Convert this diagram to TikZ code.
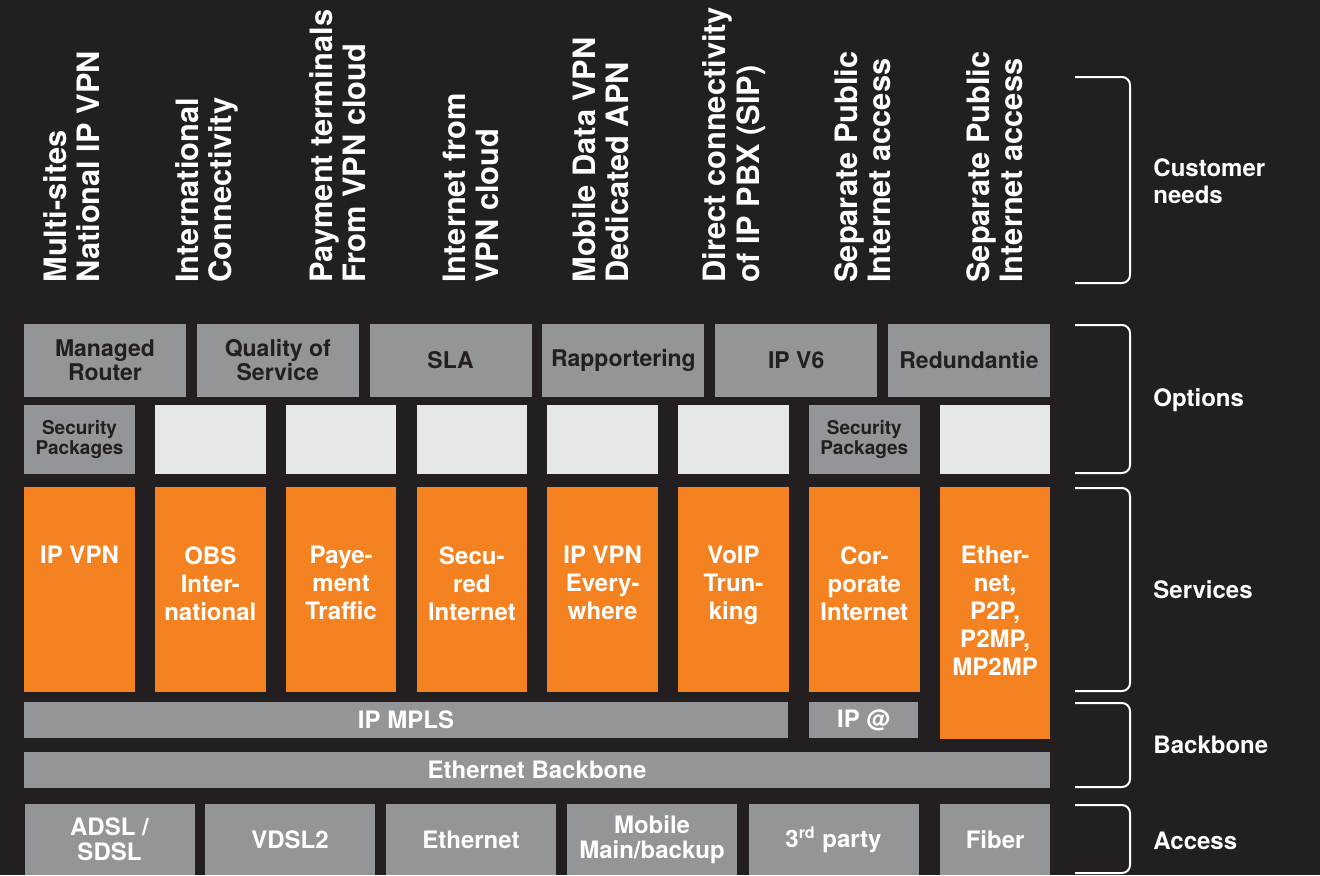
\documentclass[tikz,border=0pt]{standalone}
\usepackage{fontspec}
\setmainfont{TeX Gyre Heros}
\usepackage{tikz}
\definecolor{bgdark}{HTML}{231F20}
\definecolor{boxgray}{HTML}{939598}
\definecolor{boxlight}{HTML}{E6E7E8}
\definecolor{svcorange}{HTML}{F58220}
\newcommand{\px}{0.5pt}
\newcommand{\colw}{110.5*\px}
\tikzstyle{needtext}=[rotate=90, anchor=west, align=left, inner sep=0, text=white, font=\bfseries\fontsize{15.4}{16.6}\selectfont]
\tikzstyle{optbox}=[rectangle, fill=boxgray, text=bgdark, inner sep=0, align=center, minimum width=162*\px, minimum height=73*\px, font=\bfseries\fontsize{11.5}{12}\selectfont]
\tikzstyle{secbox}=[rectangle, fill=boxgray, text=bgdark, inner sep=0, align=center, minimum width=\colw, minimum height=69*\px, font=\bfseries\fontsize{9.5}{10}\selectfont]
\tikzstyle{emptybox}=[rectangle, fill=boxlight, inner sep=0, minimum width=\colw, minimum height=69*\px]
\tikzstyle{svcbox}=[rectangle, fill=svcorange, inner sep=0, minimum width=\colw, minimum height=205*\px]
\tikzstyle{svctext}=[anchor=north, align=center, inner sep=0, text=white, font=\bfseries\fontsize{12}{14}\selectfont]
\tikzstyle{barbox}=[rectangle, fill=boxgray, text=white, inner sep=0, align=center, minimum height=36*\px, font=\bfseries\fontsize{12}{12.5}\selectfont]
\tikzstyle{accbox}=[rectangle, fill=boxgray, text=white, inner sep=0, align=center, minimum width=170*\px, minimum height=71*\px, font=\bfseries\fontsize{12}{12.5}\selectfont]
\tikzstyle{layertext}=[anchor=west, align=left, inner sep=0, text=white, font=\bfseries\fontsize{12}{13.5}\selectfont]
\tikzstyle{bracket}=[draw=white, line width=1pt, rounded corners=4pt]

\begin{document}
\begin{tikzpicture}[x=\px, y=-\px]
  \fill[bgdark] (0,0) rectangle (1320,875);

  % customer needs
  \node[needtext] (need1) at (72,283) {Multi-sites\\National IP VPN};
  \node[needtext] (need2) at (207,283) {International\\Connectivity};
  \node[needtext] (need3) at (338,283) {Payment terminals\\From VPN cloud};
  \node[needtext] (need4) at (471,283) {Internet from\\VPN cloud};
  \node[needtext] (need5) at (601,283) {Mobile Data VPN\\Dedicated APN};
  \node[needtext] (need6) at (734,283) {Direct connectivity\\of IP PBX (SIP)};
  \node[needtext] (need7) at (863,283) {Separate Public\\Internet access};
  \node[needtext] (need8) at (995,283) {Separate Public\\Internet access};

  % options
  \node[optbox] (opt1) at (105,360.5) {Managed\\Router};
  \node[optbox] (opt2) at (277.8,360.5) {Quality of\\Service};
  \node[optbox] (opt3) at (450.6,360.5) {SLA};
  \node[optbox] (opt4) at (623.4,360.5) {Rapportering};
  \node[optbox] (opt5) at (796.2,360.5) {IP V6};
  \node[optbox] (opt6) at (969,360.5) {Redundantie};

  \node[secbox] (sec1) at (79.5,439.5) {Security\\Packages};
  \node[emptybox] (free2) at (210.3,439.5) {};
  \node[emptybox] (free3) at (341.1,439.5) {};
  \node[emptybox] (free4) at (471.9,439.5) {};
  \node[emptybox] (free5) at (602.7,439.5) {};
  \node[emptybox] (free6) at (733.5,439.5) {};
  \node[secbox] (sec7) at (864.3,439.5) {Security\\Packages};
  \node[emptybox] (free8) at (995.1,439.5) {};

  % services
  \node[svcbox] (svc1) at (79.5,589.5) {};
  \node[svcbox] (svc2) at (210.3,589.5) {};
  \node[svcbox] (svc3) at (341.1,589.5) {};
  \node[svcbox] (svc4) at (471.9,589.5) {};
  \node[svcbox] (svc5) at (602.7,589.5) {};
  \node[svcbox] (svc6) at (733.5,589.5) {};
  \node[svcbox] (svc7) at (864.3,589.5) {};
  \node[svcbox, minimum height=252*\px] (svc8) at (995.1,613) {};

  \node[svctext] (svc1txt) at (79.5,546) {IP VPN};
  \node[svctext] (svc2txt) at (210.3,546) {OBS\\Inter-\\national};
  \node[svctext] (svc3txt) at (341.1,546) {Paye-\\ment\\Traffic};
  \node[svctext] (svc4txt) at (471.9,546) {Secu-\\red\\Internet};
  \node[svctext] (svc5txt) at (602.7,546) {IP VPN\\Every-\\where};
  \node[svctext] (svc6txt) at (733.5,546) {VoIP\\Trun-\\king};
  \node[svctext] (svc7txt) at (864.3,546) {Cor-\\porate\\Internet};
  \node[svctext] (svc8txt) at (995.1,546) {Ether-\\net,\\P2P,\\P2MP,\\MP2MP};

  % backbone
  \node[barbox, minimum width=764*\px] (mpls) at (406,720) {IP MPLS};
  \node[barbox, minimum width=109*\px] (ipat) at (863.5,720) {IP @};
  \node[barbox, minimum width=1026*\px] (ethbb) at (537,770) {Ethernet Backbone};

  % access
  \node[accbox] (acc1) at (109.5,839.5) {ADSL /\\SDSL};
  \node[accbox] (acc2) at (290,839.5) {VDSL2};
  \node[accbox] (acc3) at (471,839.5) {Ethernet};
  \node[accbox] (acc4) at (652,839.5) {Mobile\\Main/backup};
  \node[accbox] (acc5) at (833.5,839.5) {3\textsuperscript{rd} party};
  \node[accbox, minimum width=\colw] (acc6) at (995.1,839.5) {Fiber};

  % layers
  \draw[bracket] (1075,77) -- (1130,77) -- (1130,283) -- (1075,283);
  \draw[bracket] (1075,325) -- (1130,325) -- (1130,473) -- (1075,473);
  \draw[bracket] (1075,488) -- (1130,488) -- (1130,691) -- (1075,691);
  \draw[bracket] (1075,703) -- (1130,703) -- (1130,787) -- (1075,787);
  \draw[bracket] (1075,805) -- (1130,805) -- (1130,873) -- (1075,873);

  \node[layertext] (lneeds) at (1153,181) {Customer\\needs};
  \node[layertext] (lopts) at (1153,400) {Options};
  \node[layertext] (lsvc) at (1153,590) {Services};
  \node[layertext] (lbb) at (1153,745) {Backbone};
  \node[layertext] (lacc) at (1153,841) {Access};
\end{tikzpicture}
\end{document}
